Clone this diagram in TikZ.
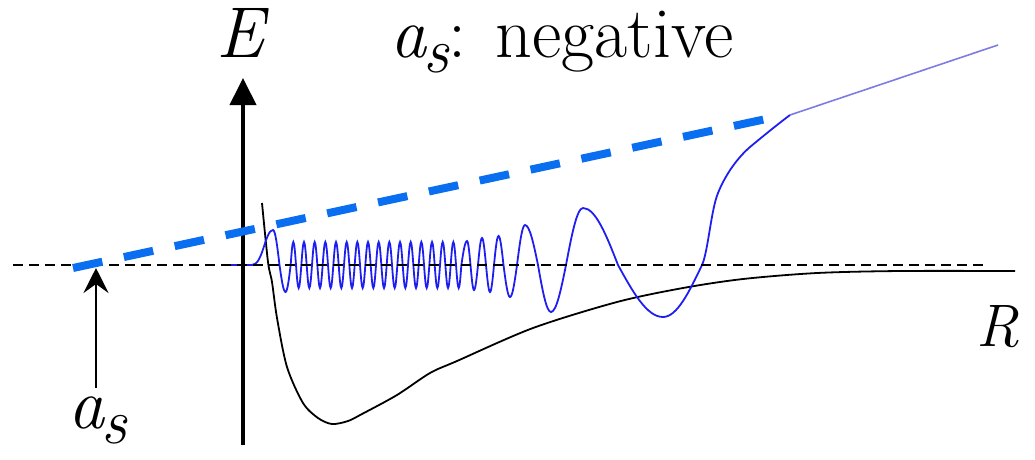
\documentclass[tikz,border=0pt]{standalone}
\usepackage{fontspec}
\usetikzlibrary{arrows.meta}
\definecolor{WaveBlue}{HTML}{1E1EF2}
\definecolor{TailBlue}{HTML}{7C7CE2}
\definecolor{SlopeBlue}{HTML}{0A6EF0}
\newcommand{\subs}[1]{\kern-0.04em\raisebox{-0.22em}{\fontsize{64}{64}\selectfont\itshape #1}}
\tikzset{
  axisline/.style={line width=4pt,-{Triangle[length=27pt,width=26pt]}},
  zeroline/.style={line width=1.8pt,dash pattern=on 10pt off 6pt},
  potential/.style={line width=1.8pt},
  wave/.style={line width=1.8pt,draw=WaveBlue},
  tail/.style={line width=1.6pt,draw=TailBlue},
  slope/.style={line width=8pt,draw=SlopeBlue,dash pattern=on 30pt off 22pt},
  pointer/.style={line width=2.4pt,-{Stealth[length=25pt,width=25pt,inset=9pt]}},
  bigtext/.style={font=\fontsize{72}{80}\selectfont,inner sep=0pt},
  rtext/.style={font=\fontsize{60}{64}\selectfont,inner sep=0pt}
}

\begin{document}
\begin{tikzpicture}[x=1pt,y=-1pt]
  \useasboundingbox (0,0) rectangle (1035,459);
  % named points
  \coordinate (axisfoot) at (243,445);
  \coordinate (axistip) at (243,78);
  \coordinate (zeroleft) at (13,265);
  \coordinate (zeroright) at (987,265);
  \coordinate (slopestart) at (73,268);
  \coordinate (slopeend) at (780,116);
  \coordinate (kink) at (790,115);
  \coordinate (tailend) at (998,45);
  \coordinate (pointerfoot) at (96,388);
  \coordinate (pointertip) at (96,268);
  % potential curve
  \draw[potential] plot[smooth] coordinates {(262,203) (268,262) (272,282) (277,318)
    (287,367) (303,403) (318,418) (332,424) (348,421) (362,414) (397,395) (430,373)
    (457,361) (533,328) (617,302) (683,288) (743,279) (817,273) (900,271) (1015,271)};
  % wave function
  \draw[wave] (230,265) -- (252,265) .. controls (263,265) and (265,230) .. (273,230)
    cos (279.5,265) sin (285.5,292) cos (290.67,265)
    \foreach \k in {0,...,15} {sin ++(2.667,-23) cos ++(2.667,23) sin ++(2.667,23) cos ++(2.667,-23)}
    sin (467,241) cos (470.5,265) sin (474,290) cos (478,265)
    sin (482,238) cos (486,265) sin (490,292) cos (494,265)
    sin (498.5,236) cos (503.5,265) sin (510,297) cos (517,265)
    sin (525,225) cos (538,265) sin (551,312) cos (566,265)
    sin (583,208) cos (618,265) sin (663,317) cos (702,265)
    .. controls (708,252) and (711,210) .. (718,193)
    .. controls (724,178) and (735,160) .. (750,147)
    .. controls (762,137) and (778,124) .. (kink);
  \draw[tail] (kink) -- (tailend);
  % zero energy
  \draw[zeroline] (zeroleft) -- (zeroright);
  % axis
  \draw[axisline] (axisfoot) -- (axistip);
  % scattering length line
  \draw[slope] (slopestart) -- (slopeend);
  \draw[pointer] (pointerfoot) -- (pointertip);
  % labels
  \node[bigtext,anchor=base] (elabel) at (240,57) {\itshape E};
  \node[bigtext,anchor=base west] (title) at (390,57) {{\itshape a}\subs{s}: negative};
  \node[bigtext,anchor=base west] (aslabel) at (68,428) {{\itshape a}\subs{s}};
  \node[rtext,anchor=base west] (rlabel) at (976,346) {\itshape R};
\end{tikzpicture}
\end{document}
